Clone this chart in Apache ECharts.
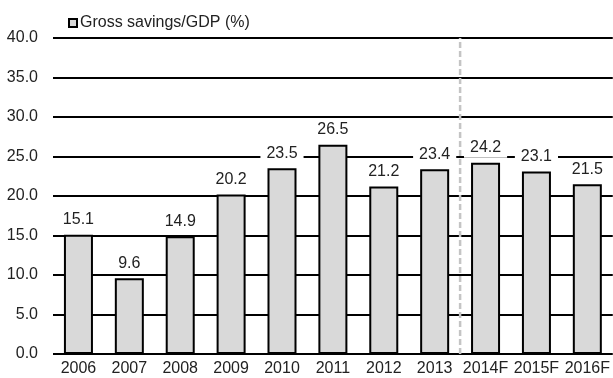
<!DOCTYPE html>
<html><head><meta charset="utf-8">
<script src="https://cdn.jsdelivr.net/npm/echarts@6/dist/echarts.min.js"></script>
<style>html,body{margin:0;padding:0;background:#fff}#c{width:613px;height:378px}</style>
</head><body><div id="c"></div>
<script>
const categories = ['2006','2007','2008','2009','2010','2011','2012','2013','2014F','2015F','2016F'];
const savings = [15.1, 9.6, 14.9, 20.2, 23.5, 26.5, 21.2, 23.4, 24.2, 23.1, 21.5];
const seriesName = 'Gross savings/GDP (%)';
const forecastBoundary = 8; // boundary between 2013 and 2014F (category edges 0..11)
const yMin = 0, yMax = 40, yStep = 5;

const chart = echarts.init(document.getElementById('c'));
const font = 'Arial, "Liberation Sans", sans-serif';
chart.setOption({
  animation: false,
  backgroundColor: '#fff',
  legend: {
    data: [{name: seriesName, icon: 'rect'}],
    left: 63, top: 10,
    itemWidth: 8, itemHeight: 8, itemGap: 4,
    itemStyle: {borderColor: '#000', borderWidth: 2},
    textStyle: {fontFamily: font, fontSize: 16, color: '#222', padding: [0,0,0,-2]}
  },
  grid: {left: 53, right: 0, top: 38, bottom: 24, containLabel: false},
  xAxis: [{
    type: 'category', data: categories,
    axisLine: {show: false}, axisTick: {show: false},
    axisLabel: {fontFamily: font, fontSize: 16, color: '#222', margin: 7, interval: 0}
  }, {
    type: 'value', min: 0, max: categories.length, show: false
  }],
  yAxis: {
    type: 'value', min: yMin, max: yMax, interval: yStep,
    axisLine: {show: false}, axisTick: {show: false},
    axisLabel: {fontFamily: font, fontSize: 16, color: '#222', margin: 15,
      formatter: v => v.toFixed(1)},
    splitLine: {lineStyle: {color: '#000', width: 2}}
  },
  series: [{
    name: seriesName, type: 'bar', data: savings,
    barWidth: '57%',
    itemStyle: {color: '#d9d9d9', borderColor: '#000', borderWidth: 2},
    label: {
      show: true, position: 'top', distance: 5,
      fontFamily: font, fontSize: 16, color: '#222',
      backgroundColor: '#fff', padding: [2, 6],
      formatter: p => p.value.toFixed(1)
    },
    z: 3
  }, {
    type: 'line', xAxisIndex: 1, silent: true, symbol: 'none',
    data: [[forecastBoundary, yMin], [forecastBoundary, yMax]],
    lineStyle: {color: '#c4c4c4', width: 2.5, type: [6, 3]},
    z: 2
  }]
});
</script></body></html>
